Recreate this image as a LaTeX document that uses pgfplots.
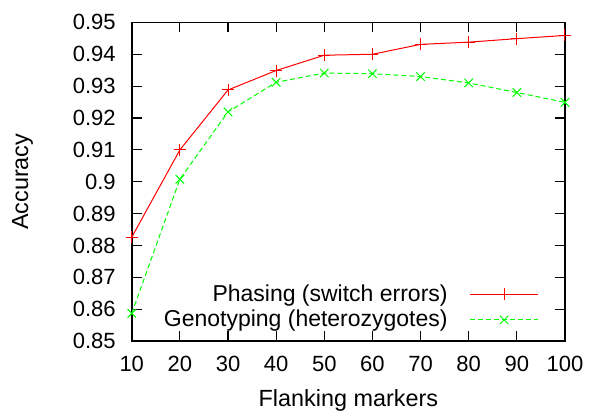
\documentclass[border=0pt]{standalone}
\usepackage{fontspec}
\setmainfont{Liberation Sans}
\usepackage{pgfplots}
\pgfplotsset{compat=1.18}

\pgfplotstableread{
x    phase   geno
10   0.8826  0.8587
20   0.9100  0.9008
30   0.9288  0.9219
40   0.9349  0.9312
50   0.9397  0.9341
60   0.9400  0.9339
70   0.9431  0.9330
80   0.9438  0.9310
90   0.9449  0.9280
100  0.9459  0.9249
}\acc

\begin{document}
\begin{tikzpicture}
\path[use as bounding box] (-65.9pt,-35.5pt) rectangle (228.7pt,170.6pt);
\begin{axis}[
    scale only axis,
    width=216.7pt, height=159.4pt,
    xmin=10, xmax=100, ymin=0.85, ymax=0.95,
    xtick={10,20,...,100},
    ytick={0.85,0.86,0.87,0.88,0.89,0.90,0.91,0.92,0.93,0.94,0.95},
    yticklabels={0.85,0.86,0.87,0.88,0.89,0.9,0.91,0.92,0.93,0.94,0.95},
    tick align=inside,
    major tick length=5pt,
    axis line style={line width=0.8pt},
    every tick/.style={black, line width=0.6pt},
    tick label style={font=\fontsize{11}{13}\selectfont},
    /pgf/number format/assume math mode=true,
    xticklabel style={yshift=-4pt},
    yticklabel style={xshift=-4.5pt},
    xlabel={Flanking markers},
    ylabel={Accuracy},
    every axis x label/.style={at={(axis description cs:0.5,-0.185)}, anchor=center,
        font=\fontsize{11.7}{13}\selectfont},
    every axis y label/.style={at={(axis description cs:-0.252,0.5)}, anchor=center, rotate=90,
        font=\fontsize{11.7}{13}\selectfont},
    legend style={draw=none, fill=none, font=\fontsize{11.5}{13}\selectfont,
        at={(1,0)}, anchor=south east, xshift=-12pt, yshift=2.5pt,
        row sep=-1pt, column sep=9pt, inner sep=1pt},
    legend cell align=right,
    legend plot pos=right,
    legend image code/.code={
        \draw[mark repeat=2, mark phase=2, #1] plot coordinates {(0pt,0pt) (17pt,0pt) (34pt,0pt)};
    },
]
\addplot[red, line width=0.5pt, mark=+, mark size=3pt, mark options={solid}]
    table[x=x, y=phase] {\acc};
\addlegendentry{Phasing (switch errors)}
\addplot[green, line width=0.5pt, dash pattern=on 2.5pt off 1.5pt, mark=x, mark size=3pt, mark options={solid}]
    table[x=x, y=geno] {\acc};
\addlegendentry{Genotyping (heterozygotes)}
\end{axis}
\end{tikzpicture}
\end{document}
